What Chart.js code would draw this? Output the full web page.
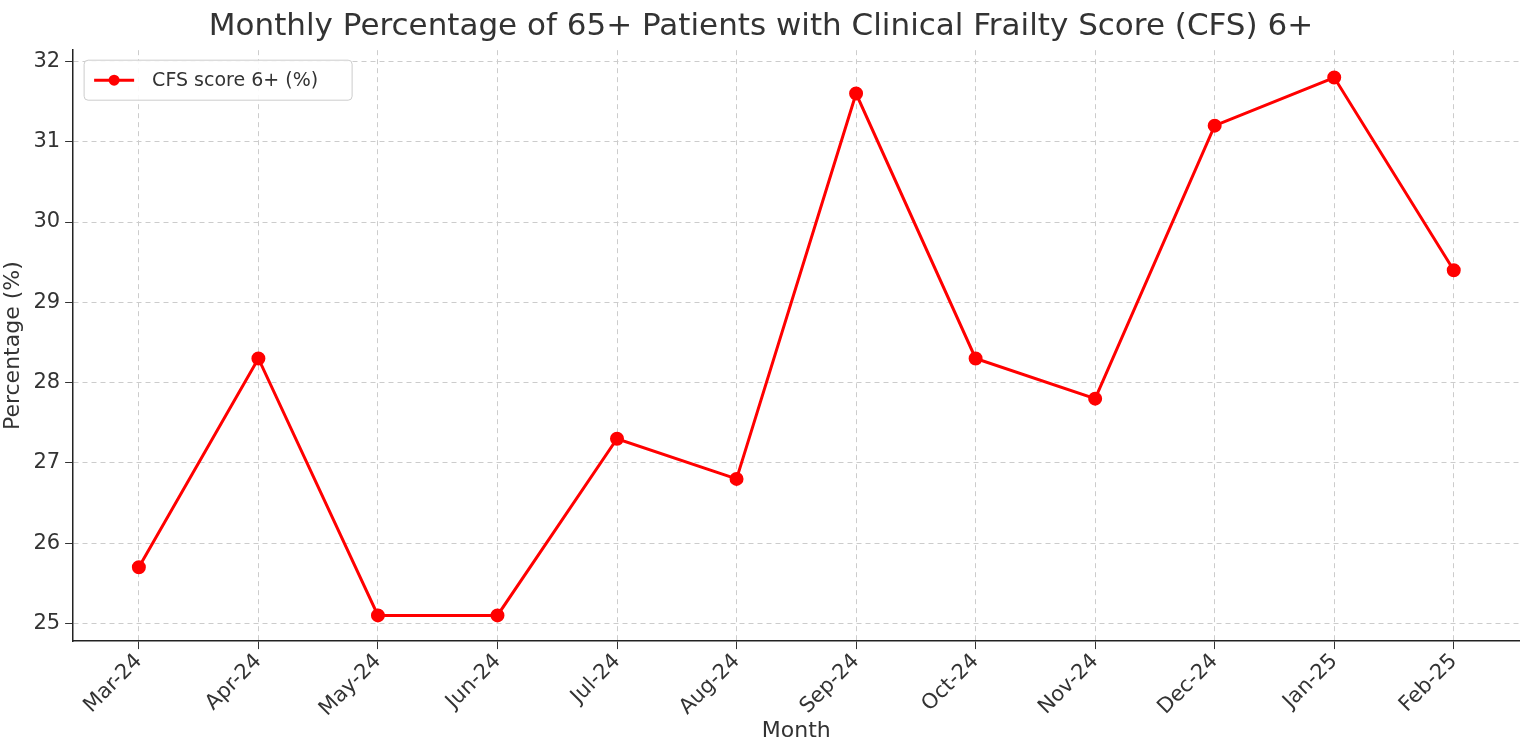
<!DOCTYPE html>
<html>
<head>
<meta charset="utf-8">
<script src="https://cdn.jsdelivr.net/npm/chart.js@4"></script>
<style>
  body { margin: 0; background: #fff; }
  #wrap { width: 1528px; height: 744px; }
</style>
</head>
<body>
<div id="wrap"><canvas id="js--chart"></canvas></div>
<script>
// monthly CFS 6+ share
const months = ["Mar-24", "Apr-24", "May-24", "Jun-24", "Jul-24", "Aug-24",
                "Sep-24", "Oct-24", "Nov-24", "Dec-24", "Jan-25", "Feb-25"];
const cfsValues = [25.7, 28.3, 25.1, 25.1, 27.3, 26.8, 31.6, 28.3, 27.8, 31.2, 31.8, 29.4];
const yTicks = [25, 26, 27, 28, 29, 30, 31, 32];

const FONT = "'DejaVu Sans', sans-serif";
const TXT = "#333";

// legend drawn inside the plot, top-left
const insideLegend = {
    id: "insideLegend",
    afterDraw(chart) {
        const ctx = chart.ctx;
        const a = chart.chartArea;
        const ds = chart.data.datasets[0];
        const x = a.left + 11, y = a.top + 10, w = 268, h = 40;
        ctx.save();
        ctx.fillStyle = "rgba(255,255,255,0.9)";
        ctx.strokeStyle = "#ccc";
        ctx.lineWidth = 1;
        ctx.beginPath();
        ctx.roundRect(x, y, w, h, 4);
        ctx.fill();
        ctx.stroke();
        ctx.strokeStyle = "red";
        ctx.lineWidth = 3;
        ctx.beginPath();
        ctx.moveTo(x + 10, y + h / 2);
        ctx.lineTo(x + 50, y + h / 2);
        ctx.stroke();
        ctx.fillStyle = "red";
        ctx.beginPath();
        ctx.arc(x + 30, y + h / 2, 5.5, 0, Math.PI * 2);
        ctx.fill();
        ctx.fillStyle = TXT;
        ctx.font = "19px " + FONT;
        ctx.textBaseline = "middle";
        ctx.fillText(ds.label, x + 68, y + h / 2 + 1);
        ctx.restore();
    }
};

const data = {
    datasets: [{
        label: "CFS score 6+ (%)",
        data: cfsValues.map((v, i) => ({ x: i, y: v })),
        borderColor: "red",
        backgroundColor: "red",
        borderWidth: 3,
        pointRadius: 5.5,
        pointHoverRadius: 5.5,
        tension: 0
    }]
};

const config = {
    type: "line",
    data: data,
    plugins: [insideLegend],
    options: {
        responsive: true,
        maintainAspectRatio: false,
        animation: false,
        layout: { padding: { left: 0, right: 6, top: 0, bottom: 0 } },
        plugins: {
            legend: { display: false },
            tooltip: { enabled: false },
            title: {
                display: true,
                text: "Monthly Percentage of 65+ Patients with Clinical Frailty Score (CFS) 6+",
                color: TXT,
                font: { family: FONT, size: 31, weight: "normal" },
                padding: { top: 8, bottom: 5 }
            }
        },
        scales: {
            x: {
                type: "linear",
                min: -0.55,
                max: 11.55,
                afterBuildTicks: (axis) => { axis.ticks = months.map((m, i) => ({ value: i })); },
                ticks: {
                    callback: (v) => months[v],
                    color: TXT,
                    font: { family: FONT, size: 21 },
                    maxRotation: 45,
                    minRotation: 45,
                    padding: 0
                },
                grid: { color: "#ccc", tickLength: 8, tickColor: "#333" },
                border: { color: "#222", width: 1.5, dash: [5, 4] },
                title: { display: true, text: "Month", color: TXT, font: { family: FONT, size: 22 }, padding: { top: -4, bottom: 0 } }
            },
            y: {
                min: 24.78,
                max: 32.14,
                afterBuildTicks: (axis) => { axis.ticks = yTicks.map(v => ({ value: v })); },
                ticks: {
                    color: TXT,
                    font: { family: FONT, size: 21 },
                    padding: 5
                },
                grid: { color: "#ccc", tickLength: 8, tickColor: "#333" },
                border: { color: "#222", width: 1.5, dash: [5, 4] },
                title: { display: true, text: "Percentage (%)", color: TXT, font: { family: FONT, size: 22 }, padding: { top: 0, bottom: 2 } }
            }
        }
    }
};

const chart = new Chart(document.getElementById("js--chart"), config);
</script>
</body>
</html>
